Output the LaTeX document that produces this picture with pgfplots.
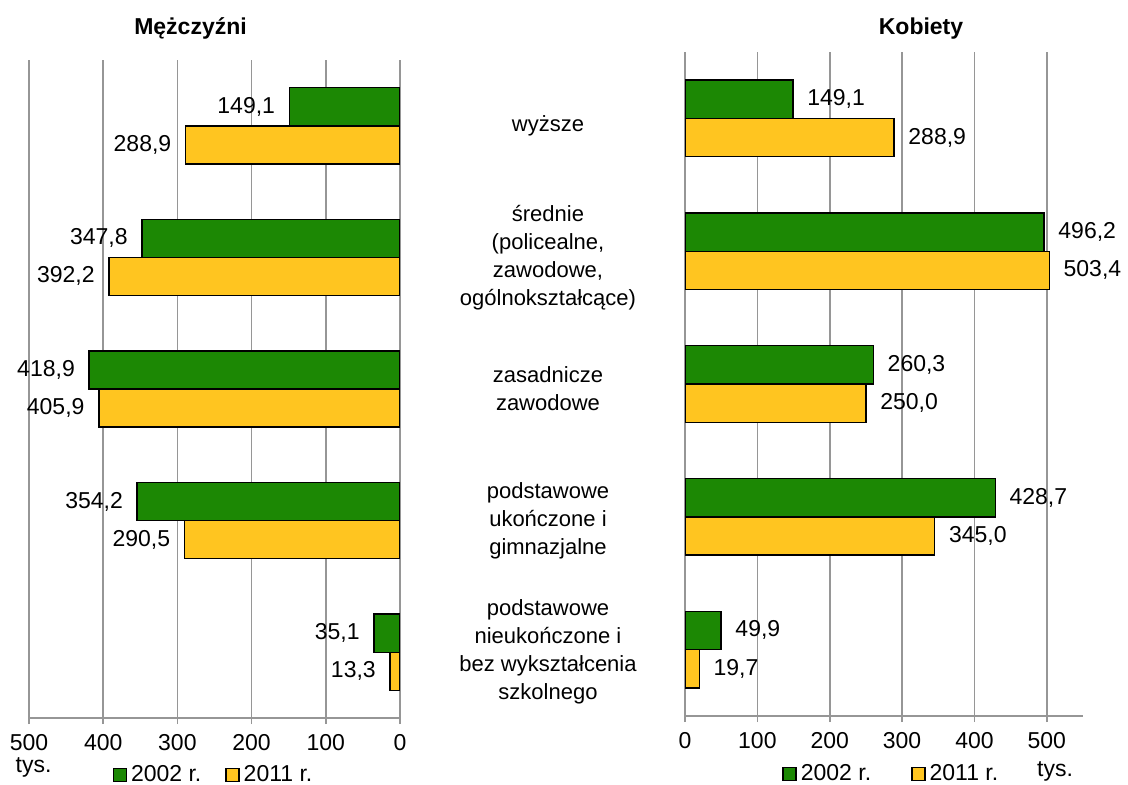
\documentclass[border=0pt]{standalone}
\usepackage{fontspec}
\setmainfont{Liberation Sans}
\usepackage{pgfplots}
\usepackage{pgfplotstable}
\pgfplotsset{compat=1.18}
\definecolor{gr}{RGB}{28,136,4}
\definecolor{ye}{RGB}{255,197,32}
\definecolor{gridc}{RGB}{150,150,150}

\pgfplotstableread{
cat m02 m11 k02 k11
1 149.1 288.9 149.1 288.9
2 347.8 392.2 496.2 503.4
3 418.9 405.9 260.3 250.0
4 354.2 290.5 428.7 345.0
5 35.1 13.3 49.9 19.7
}\data

\newcommand{\fs}{\fontsize{11.5}{14}\selectfont}
\newcommand{\fc}{\fontsize{11}{14}\selectfont}

\pgfplotsset{
  mystyle/.style={
    scale only axis, xbar, bar width=0.289,
    ymin=0.5, ymax=5.5, y dir=reverse, ytick={1,...,5},
    xmajorgrids, grid style={gridc, line width=0.8pt},
    axis x line*=bottom, x axis line style={gridc, line width=0.8pt, -},
    y axis line style={draw=none},
    xtick style={gridc, line width=0.8pt}, major tick length=3pt, tick align=outside,
    ytick style={draw=none},
    ticklabel style={font=\fs},
    /pgf/number format/assume math mode=true,
    /pgf/number format/use comma, /pgf/number format/fixed,
    /pgf/number format/fixed zerofill, /pgf/number format/precision=1,
    xticklabel style={yshift=-4pt, inner sep=1pt, /pgf/number format/precision=0, /pgf/number format/fixed zerofill=false},
    legend columns=2,
    legend style={draw=none, fill=none, font=\fs, anchor=center},
    legend image code/.code={\draw[#1] (0pt,-3.25pt) rectangle (6.5pt,3.25pt);},
  },
  grnbar/.style={fill=gr, draw=black, line width=0.7pt},
  yelbar/.style={fill=ye, draw=black, line width=0.7pt},
}

\begin{document}
\begin{tikzpicture}
\path[use as bounding box] (0,0) rectangle (564pt,392.5pt);

% Left axis: men
\begin{axis}[mystyle, at={(14.5pt,33.5pt)}, anchor=south west,
  width=185.5pt, height=329pt,
  x dir=reverse, xmin=0, xmax=500, xtick={0,100,...,500},
  axis y line*=right,
  yticklabels={wyższe, {średnie\\(policealne,\\zawodowe,\\ogólnokształcące)},
    {zasadnicze\\zawodowe}, {podstawowe\\ukończone i\\gimnazjalne},
    {podstawowe\\nieukończone i\\bez wykształcenia\\szkolnego}},
  yticklabel style={align=center, anchor=center, xshift=71pt, font=\fc},
  nodes near coords,
  every node near coord/.append style={anchor=east, xshift=-3.5pt, font=\fs, text=black},
  legend style={at={(0.5,-0.0866)}, /tikz/every even column/.append style={column sep=10pt}},
]
\addplot[grnbar, bar shift=-0.1445] table[x=m02, y=cat]{\data};
\addplot[yelbar, bar shift=0.1445] table[x=m11, y=cat]{\data};
\legend{2002 r., 2011 r.}
\end{axis}

% Right axis: women
\begin{axis}[mystyle, at={(342.5pt,34.5pt)}, anchor=south west,
  width=199pt, height=332pt,
  xmin=0, xmax=550, xtick={0,100,...,500},
  axis y line*=left, yticklabels={},
  nodes near coords,
  every node near coord/.append style={anchor=west, xshift=3.5pt, font=\fs, text=black},
  legend style={at={(0.521,-0.0873)}, /tikz/every even column/.append style={column sep=18pt}},
]
\addplot[grnbar, bar shift=-0.1445] table[x=k02, y=cat]{\data};
\addplot[yelbar, bar shift=0.1445] table[x=k11, y=cat]{\data};
\legend{2002 r., 2011 r.}
\end{axis}

\node[font=\fs\bfseries, anchor=base] at (95.25pt,375pt) {Mężczyźni};
\node[font=\fs\bfseries, anchor=base] at (460.5pt,375pt) {Kobiety};
\node[font=\fs, inner sep=1pt] at (16.75pt,9pt) {tys.};
\node[font=\fs, inner sep=1pt] at (527.5pt,7pt) {tys.};
\end{tikzpicture}
\end{document}
